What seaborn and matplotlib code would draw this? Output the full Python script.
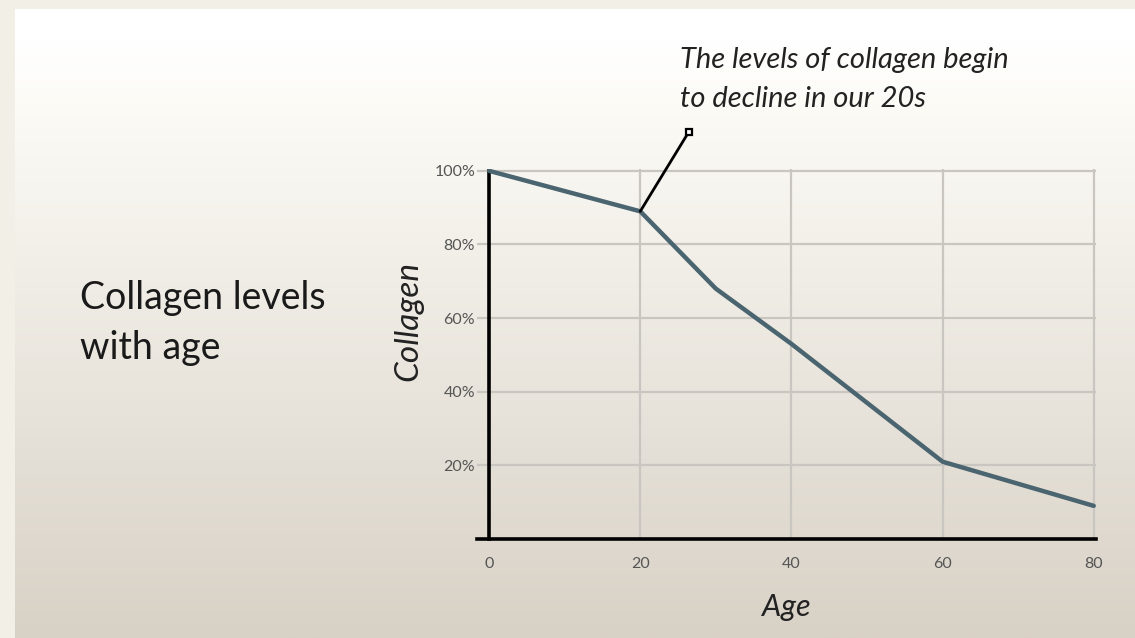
import numpy as np
import pandas as pd
import matplotlib
matplotlib.use("Agg")
import matplotlib.pyplot as plt
from matplotlib.colors import LinearSegmentedColormap
import seaborn as sns

# data
ages = [0, 20, 30, 40, 50, 60, 80]
collagen = [100, 89, 68, 53, 37, 21, 9]
x_ticks = [0, 20, 40, 60, 80]
y_ticks = [20, 40, 60, 80, 100]
y_tick_labels = ["20%", "40%", "60%", "80%", "100%"]

df = pd.DataFrame({"Age": ages, "Collagen": collagen})

sns.set_style("white")
plt.rcParams['font.family'] = ['Lato', 'DejaVu Sans']

fig = plt.figure(figsize=(11.35, 6.38), dpi=100)
fig.patch.set_facecolor("#f2efe7")

# gradient panel behind everything
bg = fig.add_axes([15 / 1135, 0, 1 - 15 / 1135, 629 / 638], zorder=-5)
cmap = LinearSegmentedColormap.from_list("bg", [(0, "#ffffff"), (0.05, "#ffffff"), (0.15, "#fcfbf6"),
                                                (1, "#d8d1c6")])
grad = np.linspace(0, 1, 256).reshape(-1, 1)
bg.imshow(grad, aspect="auto", cmap=cmap, extent=[0, 1, 0, 1], origin="upper")
bg.axis("off")

ax = fig.add_axes([477 / 1135, 1 - 539 / 638, 619 / 1135, 370 / 638])
ax.patch.set_alpha(0)

sns.lineplot(data=df, x="Age", y="Collagen", ax=ax, color="#4a6470", linewidth=3.2, zorder=3)

ax.set_xlim(-1.6, 80.3)
ax.set_ylim(0, 100.5)
ax.set_xticks(x_ticks)
ax.set_yticks(y_ticks)
ax.set_yticklabels(y_tick_labels)
ax.grid(True, color="#c9c6c2", linewidth=1.6)
ax.set_axisbelow(True)

for s in ["top", "right"]:
    ax.spines[s].set_visible(False)
ax.spines["left"].set_position(("data", 0))
ax.spines["left"].set_color("black")
ax.spines["left"].set_linewidth(2.6)
ax.spines["left"].set_bounds(0, 100)
ax.spines["bottom"].set_color("black")
ax.spines["bottom"].set_linewidth(2.6)
ax.tick_params(axis="both", length=0, colors="#555555", labelsize=11.5)
ax.tick_params(axis="x", pad=13)
ax.tick_params(axis="y", pad=10)

ax.set_xlabel("Age", fontsize=22, style="italic", color="#222222", labelpad=16)
ax.set_ylabel("Collagen", fontsize=24, style="italic", color="#222222")
ax.yaxis.set_label_coords(-0.086, 0.59)

# annotation pointer
ax.annotate("", xy=(20, 89), xytext=(26.4, 110.5), annotation_clip=False,
            arrowprops=dict(arrowstyle="-", color="black", lw=2, shrinkA=0, shrinkB=0))
ax.plot([26.4], [110.5], marker="s", markersize=5, mfc="white", mec="black", mew=1.6,
        clip_on=False, zorder=5)

fig.text(680 / 1135, 1 - 47 / 638, "The levels of collagen begin\nto decline in our 20s",
         fontsize=21, style="italic", color="#222222", va="top", ha="left", linespacing=1.6)

fig.text(80 / 1135, 1 - 323 / 638, "Collagen levels\nwith age",
         fontsize=27, color="#1a1a1a", va="center", ha="left", linespacing=1.45)

plt.savefig("out.png", dpi=100, facecolor=fig.get_facecolor())
